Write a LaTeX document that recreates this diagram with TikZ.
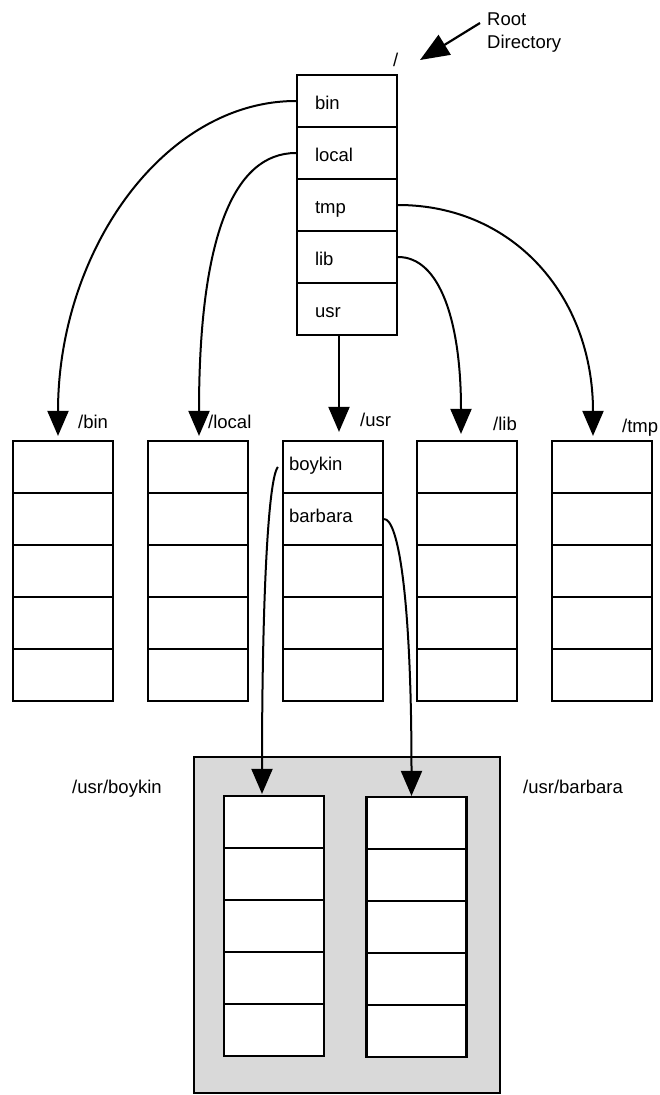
\documentclass[tikz,border=0pt]{standalone}
\usepackage{fontspec}
\setmainfont{Liberation Sans}
\usetikzlibrary{arrows.meta}
\begin{document}
\begin{tikzpicture}[x=1pt,y=-1pt,
  every node/.style={font=\fontsize{18.5}{21}\selectfont},
  cell/.style={draw, line width=2.2pt, fill=white, minimum width=100pt, minimum height=52pt, inner ysep=0pt, align=left},
  rootcell/.style={cell, text width=64pt, inner xsep=18pt, text height=16pt, text depth=0pt},
  subcell/.style={cell, text width=88pt, inner xsep=6pt, text height=10pt, text depth=4pt},
  conn/.style={line width=2pt, -{Triangle[length=25pt,width=21pt]}},
  bigconn/.style={line width=2.2pt, -{Triangle[length=29pt,width=23pt]}},
  lbl/.style={inner sep=0pt, anchor=base west},
  shadebox/.style={draw, line width=2.2pt, fill=black!15, inner sep=0pt},
]
\useasboundingbox (0,0) rectangle (660,1095);

% root directory
\foreach \t [count=\i] in {bin,local,tmp,lib,usr}
  \node[rootcell] (r\i) at (347,{101+52*(\i-1)}) {\t};
\node[lbl] (slash) at (393,66) {/};
\node[lbl] (rootA) at (487,25) {Root};
\node[lbl] (rootB) at (487,48) {Directory};

% second level directories
\foreach \c/\x in {b/63, l/198, i/467, t/602}
  \foreach \i in {1,...,5}
    \node[subcell] (\c\i) at (\x,{467+52*(\i-1)}) {};
\node[subcell] (u1) at (333,467) {boykin};
\node[subcell] (u2) at (333,519) {barbara};
\foreach \i in {3,4,5}
  \node[subcell] (u\i) at (333,{467+52*(\i-1)}) {};

\node[lbl] (lbin) at (78,428) {/bin};
\node[lbl] (llocal) at (208,428) {/local};
\node[lbl] (lusr) at (360,426) {/usr};
\node[lbl] (llib) at (493,430) {/lib};
\node[lbl] (ltmp) at (622,432) {/tmp};

% third level
\node[shadebox, minimum width=306pt, minimum height=336pt] (grp) at (347,925) {};
\foreach \i in {1,...,5}
  \node[subcell] (k\i) at (274,{822+52*(\i-1)}) {};
\foreach \i in {1,...,5}
  \node[subcell] (a\i) at (416.5,{823+52*(\i-1)}) {};
\node[lbl] (lboy) at (72,793) {/usr/boykin};
\node[lbl] (lbar) at (523,793) {/usr/barbara};

% connectors
\draw[bigconn] ([shift={(-7,-2)}]rootA.base west) -- ([shift={(27,-6)}]slash.base west);
\draw[conn] (r1.west) .. controls +(-132,0) and +(0,-185) .. ([shift={(-5,-4)}]b1.north);
\draw[conn] (r2.west) .. controls +(-62,0) and +(0,-200) .. ([shift={(1,-4)}]l1.north);
\draw[conn] ([xshift=-8pt]r5.south) -- ([shift={(6,-8)}]u1.north);
\draw[conn] (r4.east) .. controls +(42,0) and +(0,-112) .. ([shift={(-6,-6)}]i1.north);
\draw[conn] (r3.east) .. controls +(115,0) and +(0,-140) .. ([shift={(-9,-4)}]t1.north);
\draw[conn] ([xshift=-4pt]u1.west) .. controls +(-10,12) and +(0,-190) .. ([shift={(-12,-1)}]k1.north);
\draw[conn] (u2.east) .. controls +(14,0) and +(0,-200) .. ([shift={(-5,0)}]a1.north);
\end{tikzpicture}
\end{document}
